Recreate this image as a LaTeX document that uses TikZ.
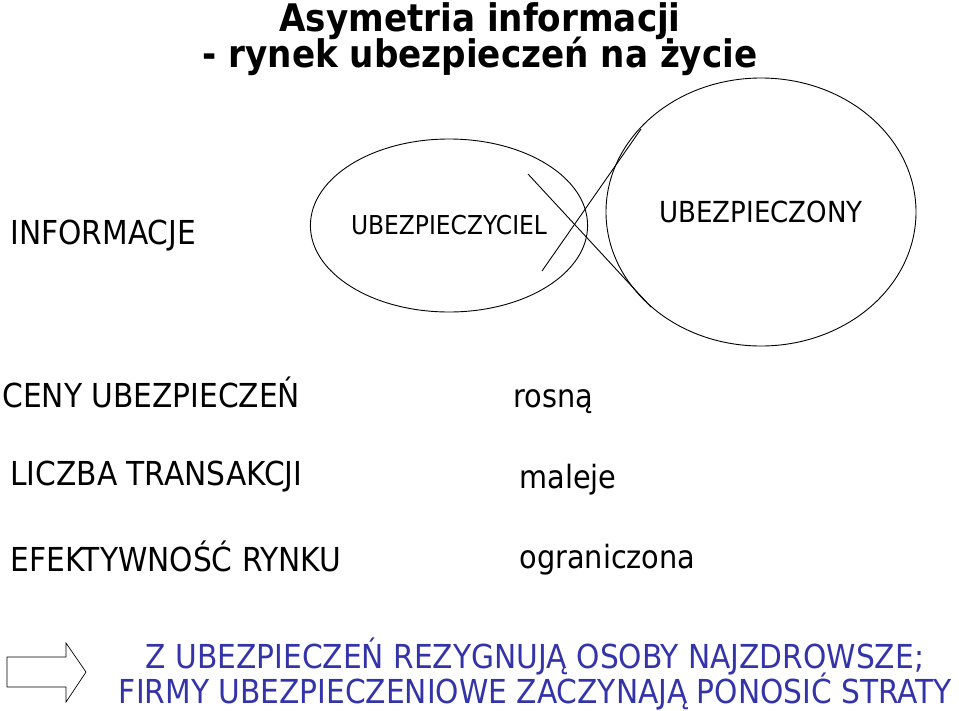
\documentclass[tikz,border=0pt]{standalone}
\usepackage{fontspec}
\setmainfont{DejaVu Sans Condensed}
\usepackage{tikz}
\usepackage{xcolor}
\usetikzlibrary{shapes.geometric}
\definecolor{Blue-T}{RGB}{51, 51, 170}

\begin{document}
\begin{tikzpicture}[x=1pt, y=-1pt, line width=0.9pt,
    label text/.style={anchor=base west, inner sep=0pt, font=\fontsize{33}{36}\selectfont},
    title text/.style={anchor=base, inner sep=0pt, font=\fontsize{38}{40}\selectfont\bfseries},
    result text/.style={anchor=base, inner sep=0pt, text=Blue-T, font=\fontsize{33}{36}\selectfont},
    party/.style={ellipse, draw, inner sep=0pt}]

    \useasboundingbox (0,0) rectangle (959,710);

    \node[title text] (title1) at (480,31) {Asymetria informacji};
    \node[title text] (title2) at (480,67) {- rynek ubezpieczeń na życie};

    \node[label text] (info) at (10,244) {INFORMACJE};

    \node[party, minimum width=208pt, minimum height=173pt, font=\fontsize{26}{30}\selectfont] (insurer) at (449,225.5) {UBEZPIECZYCIEL};
    \node[party, minimum width=310pt, minimum height=268pt, font=\fontsize{29}{32}\selectfont] (insured) at (761,212) {UBEZPIECZONY};

    \coordinate (cross a1) at (528,174);
    \coordinate (cross a2) at (651,307);
    \coordinate (cross b1) at (542,271);
    \coordinate (cross b2) at (641,129);
    \draw (cross a1) -- (cross a2);
    \draw (cross b1) -- (cross b2);

    \node[label text] (prices) at (2,407) {CENY UBEZPIECZEŃ};
    \node[label text, font=\fontsize{32}{36}\selectfont] (rise) at (513,407) {rosną};
    \node[label text] (count) at (10,485) {LICZBA TRANSAKCJI};
    \node[label text, font=\fontsize{32}{36}\selectfont] (fall) at (519,488) {maleje};
    \node[label text] (effect) at (10,571) {EFEKTYWNOŚĆ RYNKU};
    \node[label text, font=\fontsize{32}{36}\selectfont] (limited) at (519,568) {ograniczona};

    \draw[line width=0.7pt] (7,657) -- (66,657) -- (66,643) -- (86,672) -- (66,702) -- (66,687) -- (7,687) -- cycle;

    \node[result text] (result1) at (535,668) {Z UBEZPIECZEŃ REZYGNUJĄ OSOBY NAJZDROWSZE;};
    \node[result text] (result2) at (535.5,703) {FIRMY UBEZPIECZENIOWE ZACZYNAJĄ PONOSIĆ STRATY};

\end{tikzpicture}
\end{document}
